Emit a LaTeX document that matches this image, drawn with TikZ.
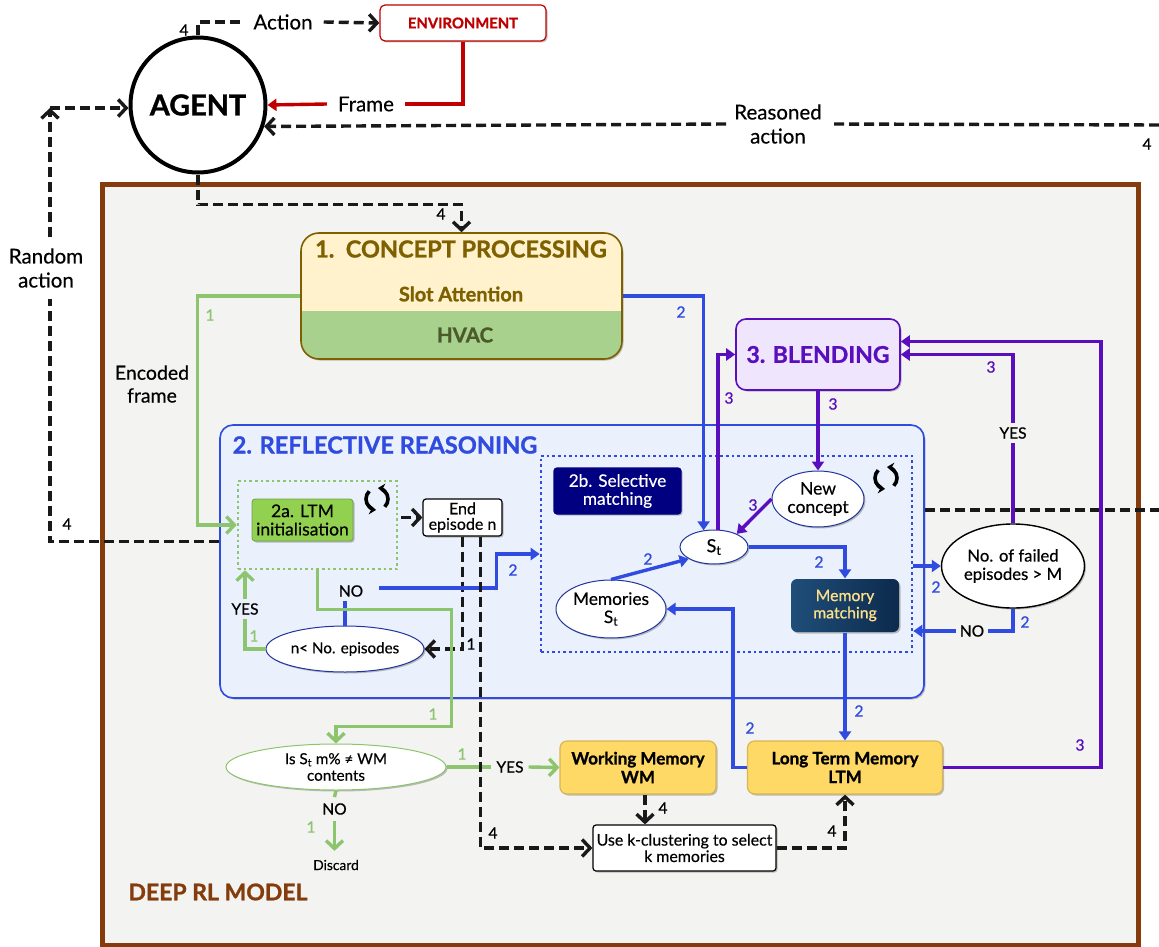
\documentclass[tikz,border=0pt]{standalone}
\usepackage{fontspec}
\setmainfont[RawFeature={embolden=0.35},BoldFeatures={RawFeature={embolden=1.1}}]{Lato}
\newfontfamily\midfont[RawFeature={embolden=0.9}]{Lato}
\usetikzlibrary{arrows.meta,shapes.geometric,shadows}
\definecolor{brownedge}{HTML}{843C0C}
\definecolor{modelfill}{HTML}{F3F3F2}
\definecolor{redline}{HTML}{C00000}
\definecolor{olive}{HTML}{7F6000}
\definecolor{cream}{HTML}{FFF2CC}
\definecolor{hvacgreen}{HTML}{A9D18E}
\definecolor{hvactext}{HTML}{4B5A2A}
\definecolor{greenline}{HTML}{8CC56D}
\definecolor{ltmgreen}{HTML}{92D050}
\definecolor{blueline}{HTML}{2F4BE0}
\definecolor{reflfill}{HTML}{EAF1FC}
\definecolor{purpleline}{HTML}{5A0FBE}
\definecolor{blendfill}{HTML}{EFE6FD}
\definecolor{navybox}{HTML}{000080}
\definecolor{memtop}{HTML}{1F4E79}
\definecolor{membottom}{HTML}{0C2A4C}
\definecolor{gold}{HTML}{FFD966}
\definecolor{goldedge}{HTML}{D6B656}
\definecolor{memtext}{HTML}{FFE08A}
\newcommand{\fs}[1]{\pgfmathsetmacro\fsleading{#1*1.22}\fontsize{#1}{\fsleading}\selectfont}
\tikzset{
  softshadow/.style={drop shadow={shadow xshift=1.5pt,shadow yshift=-1.5pt,fill=black!50,opacity=.5}},
  box/.style={draw,rounded corners=5pt,inner sep=0pt,align=center,line width=1.2pt,softshadow},
  oval/.style={ellipse,draw=blueline!70!black,fill=white,inner sep=0pt,align=center,line width=1pt,softshadow},
  lab/.style={inner sep=11pt,align=center,font=\fs{20.5}},
  small/.style={inner sep=2pt,font=\midfont\fs{15.5}},
  dashline/.style={line width=3.4pt,black!90,dash pattern=on 10pt off 5pt,-{Straight Barb[length=8pt,width=17pt,line width=3.4pt]}},
  dashplain/.style={line width=3.4pt,black!90,dash pattern=on 10pt off 5pt},
  greenarrow/.style={line width=3.4pt,greenline,-{Straight Barb[length=8pt,width=17pt,line width=3.4pt]}},
  greenplain/.style={line width=3.4pt,greenline},
  bluearrow/.style={line width=3.4pt,blueline,-{Triangle[length=9pt,width=12pt]}},
  blueplain/.style={line width=3.4pt,blueline},
  purplearrow/.style={line width=3.4pt,purpleline,-{Triangle[length=9pt,width=12pt]}},
  purpleplain/.style={line width=3.4pt,purpleline},
}
\begin{document}
\begin{tikzpicture}[x=1pt,y=-1pt]
\useasboundingbox (0,0) rectangle (1159,947);
\node[draw=brownedge,fill=modelfill,line width=5pt,minimum width=1036pt,minimum height=761pt,inner sep=0pt] (model) at (620,564.5) {};
\node[text=brownedge,font=\bfseries\fs{23},inner sep=0pt] (modeltitle) at (218,892) {DEEP RL MODEL};

\node[circle,draw,line width=4pt,fill=white,minimum size=135pt,inner sep=0pt,font=\bfseries\fs{28.8}] (agent) at (198,105) {AGENT};
\node[box,draw=redline,fill=white,minimum width=166pt,minimum height=36pt,text=redline,font=\bfseries\fs{14.8}] (env) at (463,23) {ENVIRONMENT};
\node[lab] (action) at (283,22) {Action};
\node[lab] (frame) at (366,104) {Frame};
\node[lab,inner sep=8pt] (reasoned) at (778,124) {Reasoned\\[-1pt]action};
\node[lab] (random) at (46,268) {Random\\[-1pt]action};
\node[lab,font=\fs{19.5}] (encoded) at (152,384) {Encoded\\[-1pt]frame};
\coordinate (offa) at (1159,125);
\coordinate (offb) at (1159,510);
\coordinate (corner) at (50,108);

\node[box,draw=olive,fill=cream,line width=1.6pt,rounded corners=18pt,minimum width=321pt,minimum height=126pt,
  path picture={\fill[hvacgreen,sharp corners] ([yshift=48pt]path picture bounding box.south west) rectangle (path picture bounding box.south east);}] (concept) at (461.5,296) {};
\node[text=olive,font=\bfseries\fs{23.5},inner sep=0pt] (concepttitle) at (461,249) {1.\ \ CONCEPT PROCESSING};
\node[text=olive,font=\bfseries\fs{20},inner sep=0pt] (slot) at (461,294) {Slot Attention};
\node[text=hvactext,font=\bfseries\fs{20.5},inner sep=0pt] (hvac) at (465,335) {HVAC};

\node[box,draw=purpleline,fill=blendfill,text=purpleline,line width=1.6pt,rounded corners=10pt,minimum width=164pt,minimum height=71pt,font=\bfseries\fs{23}] (blending) at (818,354.5) {3. BLENDING};

\node[box,draw=blueline,fill=reflfill,line width=1.6pt,rounded corners=13pt,minimum width=704pt,minimum height=273pt] (refl) at (572,561.5) {};
\node[text=blueline,font=\bfseries\fs{23.6},inner sep=0pt] (refltitle) at (385,445) {2. REFLECTIVE REASONING};

\node[draw=greenline,line width=2.6pt,dash pattern=on 2.6pt off 3pt,minimum width=159pt,minimum height=88pt,inner sep=0pt] (ltmouter) at (317.5,525) {};
\node[box,draw=greenline!80!black,fill=ltmgreen,minimum width=101pt,minimum height=42pt,font=\fs{17.5},line width=.8pt,rounded corners=3pt] (ltminit) at (302.5,520) {2a. LTM\\[-3pt]initialisation};
\node[box,fill=white,minimum width=79pt,minimum height=37pt,font=\fs{16},rounded corners=3pt] (endep) at (462.5,517.5) {End\\[-4pt]episode n};
\node[oval,minimum width=158pt,minimum height=46pt,font=\fs{15.2}] (nep) at (345,649) {n< No. episodes};
\node[small,inner sep=4pt] (yesa) at (245,609) {YES};
\node[small,inner sep=4pt] (noa) at (351,591) {NO};

\node[draw=blueline,line width=2.6pt,dash pattern=on 2.6pt off 3pt,minimum width=371pt,minimum height=196pt,inner sep=0pt] (sel) at (726.5,554) {};
\node[box,draw=navybox,fill=navybox,text=white,minimum width=127pt,minimum height=46pt,font=\fs{17.2},rounded corners=3pt] (selbox) at (617.5,491) {2b. Selective\\[-3pt]matching};
\node[oval,minimum width=68pt,minimum height=34pt,font=\fs{18}] (st) at (714,547) {S\textsubscript{t}};
\node[oval,minimum width=92pt,minimum height=56pt,font=\fs{17.5}] (newc) at (818,499) {New\\[-3pt]concept};
\node[oval,minimum width=110pt,minimum height=58pt,font=\fs{17.3}] (mem) at (611,609) {Memories\\[-3pt]S\textsubscript{t}};
\node[box,draw=none,left color=memtop,right color=membottom,text=memtext,minimum width=108pt,minimum height=53pt,font=\midfont\fs{15.8},rounded corners=6pt] (memmatch) at (845,605.5) {Memory\\[-2pt]matching};
\node[oval,draw=black,line width=1.4pt,minimum width=143pt,minimum height=84pt,font=\fs{16.7}] (failed) at (1013,566) {No. of failed\\[-2pt]episodes > M};
\node[small,inner sep=4pt] (nob) at (972,631) {NO};
\node[small,inner sep=4pt] (yesb) at (1013,433) {YES};

\node[oval,draw=greenline,minimum width=220pt,minimum height=46pt,font=\fs{15.2}] (check) at (336,767) {Is S\textsubscript{t} m\% ≠ WM\\[-2pt]contents};
\node[small,inner sep=5pt] (yesc) at (510,767) {YES};
\node[small,inner sep=6pt] (noc) at (334.5,809) {NO};
\node[inner sep=2pt,font=\fs{13.8}] (discard) at (336,865) {Discard};
\node[box,draw=goldedge,fill=gold,minimum width=156pt,minimum height=53pt,font=\bfseries\fs{17},rounded corners=7pt] (wm) at (638,767.5) {Working Memory\\[-2pt]WM};
\node[box,draw=goldedge,fill=gold,minimum width=195pt,minimum height=53pt,font=\bfseries\fs{17},rounded corners=7pt] (ltm) at (845,767.5) {Long Term Memory\\[-2pt]LTM};
\node[box,fill=white,minimum width=183pt,minimum height=46pt,font=\fs{15.9},rounded corners=3pt] (kbox) at (684.5,848) {Use k-clustering to select\\[-3pt]k memories};

\draw[dashplain] (agent.north) |- (action.west);
\draw[dashline] (action.east) -- (env.west);
\draw[line width=3.4pt,redline] (env.south) |- (frame.east);
\draw[line width=3.4pt,redline,-{Triangle[length=9pt,width=12pt]}] (frame.west) -- (agent.east);
\draw[dashplain] (offa) -- (reasoned.east);
\draw[dashline] (reasoned.west) -- (agent.-18);
\draw[dashplain] ([yshift=20pt]refl.west) -| (random.south -| corner);
\draw[dashline] (random.north -| corner) -- (corner);
\draw[dashline] (corner) -- (agent.west |- corner);
\draw[dashline] (agent.south) -- ++(0,30) -| (concept.north);
\draw[dashplain] (refl.east |- offb) -- (offb);

\draw[greenarrow] (concept.west) -| ([xshift=-39pt]ltmouter.west) -- (ltmouter.west);
\draw[bluearrow] (concept.east) -| (st.122);
\draw[purplearrow] (st.77) |- (blending.west);
\draw[purplearrow] (blending.south) -- (newc.north);
\draw[purplearrow] (newc.west) -- (st.30);

\draw[dashline] ([xshift=3pt]ltmouter.east |- endep.west) -- (endep.west);
\draw[dashline] (endep.south) |- (nep.east);
\draw[greenplain] (nep.west) -| (yesa.south);
\draw[greenarrow] (yesa.north) -- (yesa.north |- ltmouter.south);
\draw[blueplain] (nep.north) -- (nep.north |- noa.south);
\draw[bluearrow] ([xshift=12pt,yshift=3pt]noa.east) -| ([xshift=-43pt]sel.west) -- (sel.west);
\draw[greenarrow] (ltmouter.south) -- ++(0,39) -- ++(134,0) -- ++(0,117) -| (check.north);

\draw[bluearrow] (mem.north) -- (st.205);
\draw[bluearrow] (st.east) -| (memmatch.north);
\draw[bluearrow] (memmatch.south) -- (ltm.north);
\draw[bluearrow] (ltm.west) -- ++(-14,0) |- (mem.east);
\draw[bluearrow] (failed.west -| sel.east) -- (failed.west);
\draw[blueplain] (failed.south) |- (nob.east);
\draw[bluearrow] (nob.west) -- (nob.west -| sel.east);
\draw[purpleplain] (failed.north) -- (yesb.south);
\draw[purplearrow] (yesb.north) |- (blending.east);
\draw[purplearrow] (ltm.east) -| ([xshift=200pt,yshift=13pt]blending.east) -- ([yshift=13pt]blending.east);

\draw[greenplain] (check.east) -- (yesc.west);
\draw[greenarrow] (yesc.east) -- (wm.west);
\draw[greenplain] (check.south) -- (noc.north);
\draw[greenarrow] (noc.south) -- ++(0,30);
\draw[dashline] ([xshift=18pt]endep.south) |- (kbox.west);
\draw[dashline] ([xshift=7pt]wm.south) -- ([xshift=7pt]wm.south |- kbox.north);
\draw[dashline] (kbox.east) -| (ltm.south);

\foreach \x/\y [count=\k] in {377/499,886/478}
  {\coordinate (cyc\k) at (\x,\y);
   \draw[line width=3.6pt,-{Stealth[length=7pt,width=10pt]}] (cyc\k) ++(-45:11pt) arc[start angle=-45,end angle=85,radius=11pt];
   \draw[line width=3.6pt,-{Stealth[length=7pt,width=10pt]}] (cyc\k) ++(135:11pt) arc[start angle=135,end angle=265,radius=11pt];
  };
\foreach \x/\y/\c/\n [count=\k] in {184/30/black/4,441/214/black/4,1147/144/black/4,67/524/black/4,
    471/644/black/1,493/833/black/4,663/808/black/4,832/831/black/4,
    210/315/greenline/1,254/636/greenline/1,433/714/greenline/1,462/754/greenline/1,311/827/greenline/1,
    681/312/blueline/2,513/570/blueline/2,648/559/blueline/2,819/562/blueline/2,936/587/blueline/2,1025/622/blueline/2,859/711/blueline/2,750/728/blueline/2,
    729/398/purpleline/3,833/404/purpleline/3,753/505/purpleline/3,991/367/purpleline/3,1080/745/purpleline/3}
  \node[small,text=\c] (num\k) at (\x,\y) {\n};
\end{tikzpicture}
\end{document}
